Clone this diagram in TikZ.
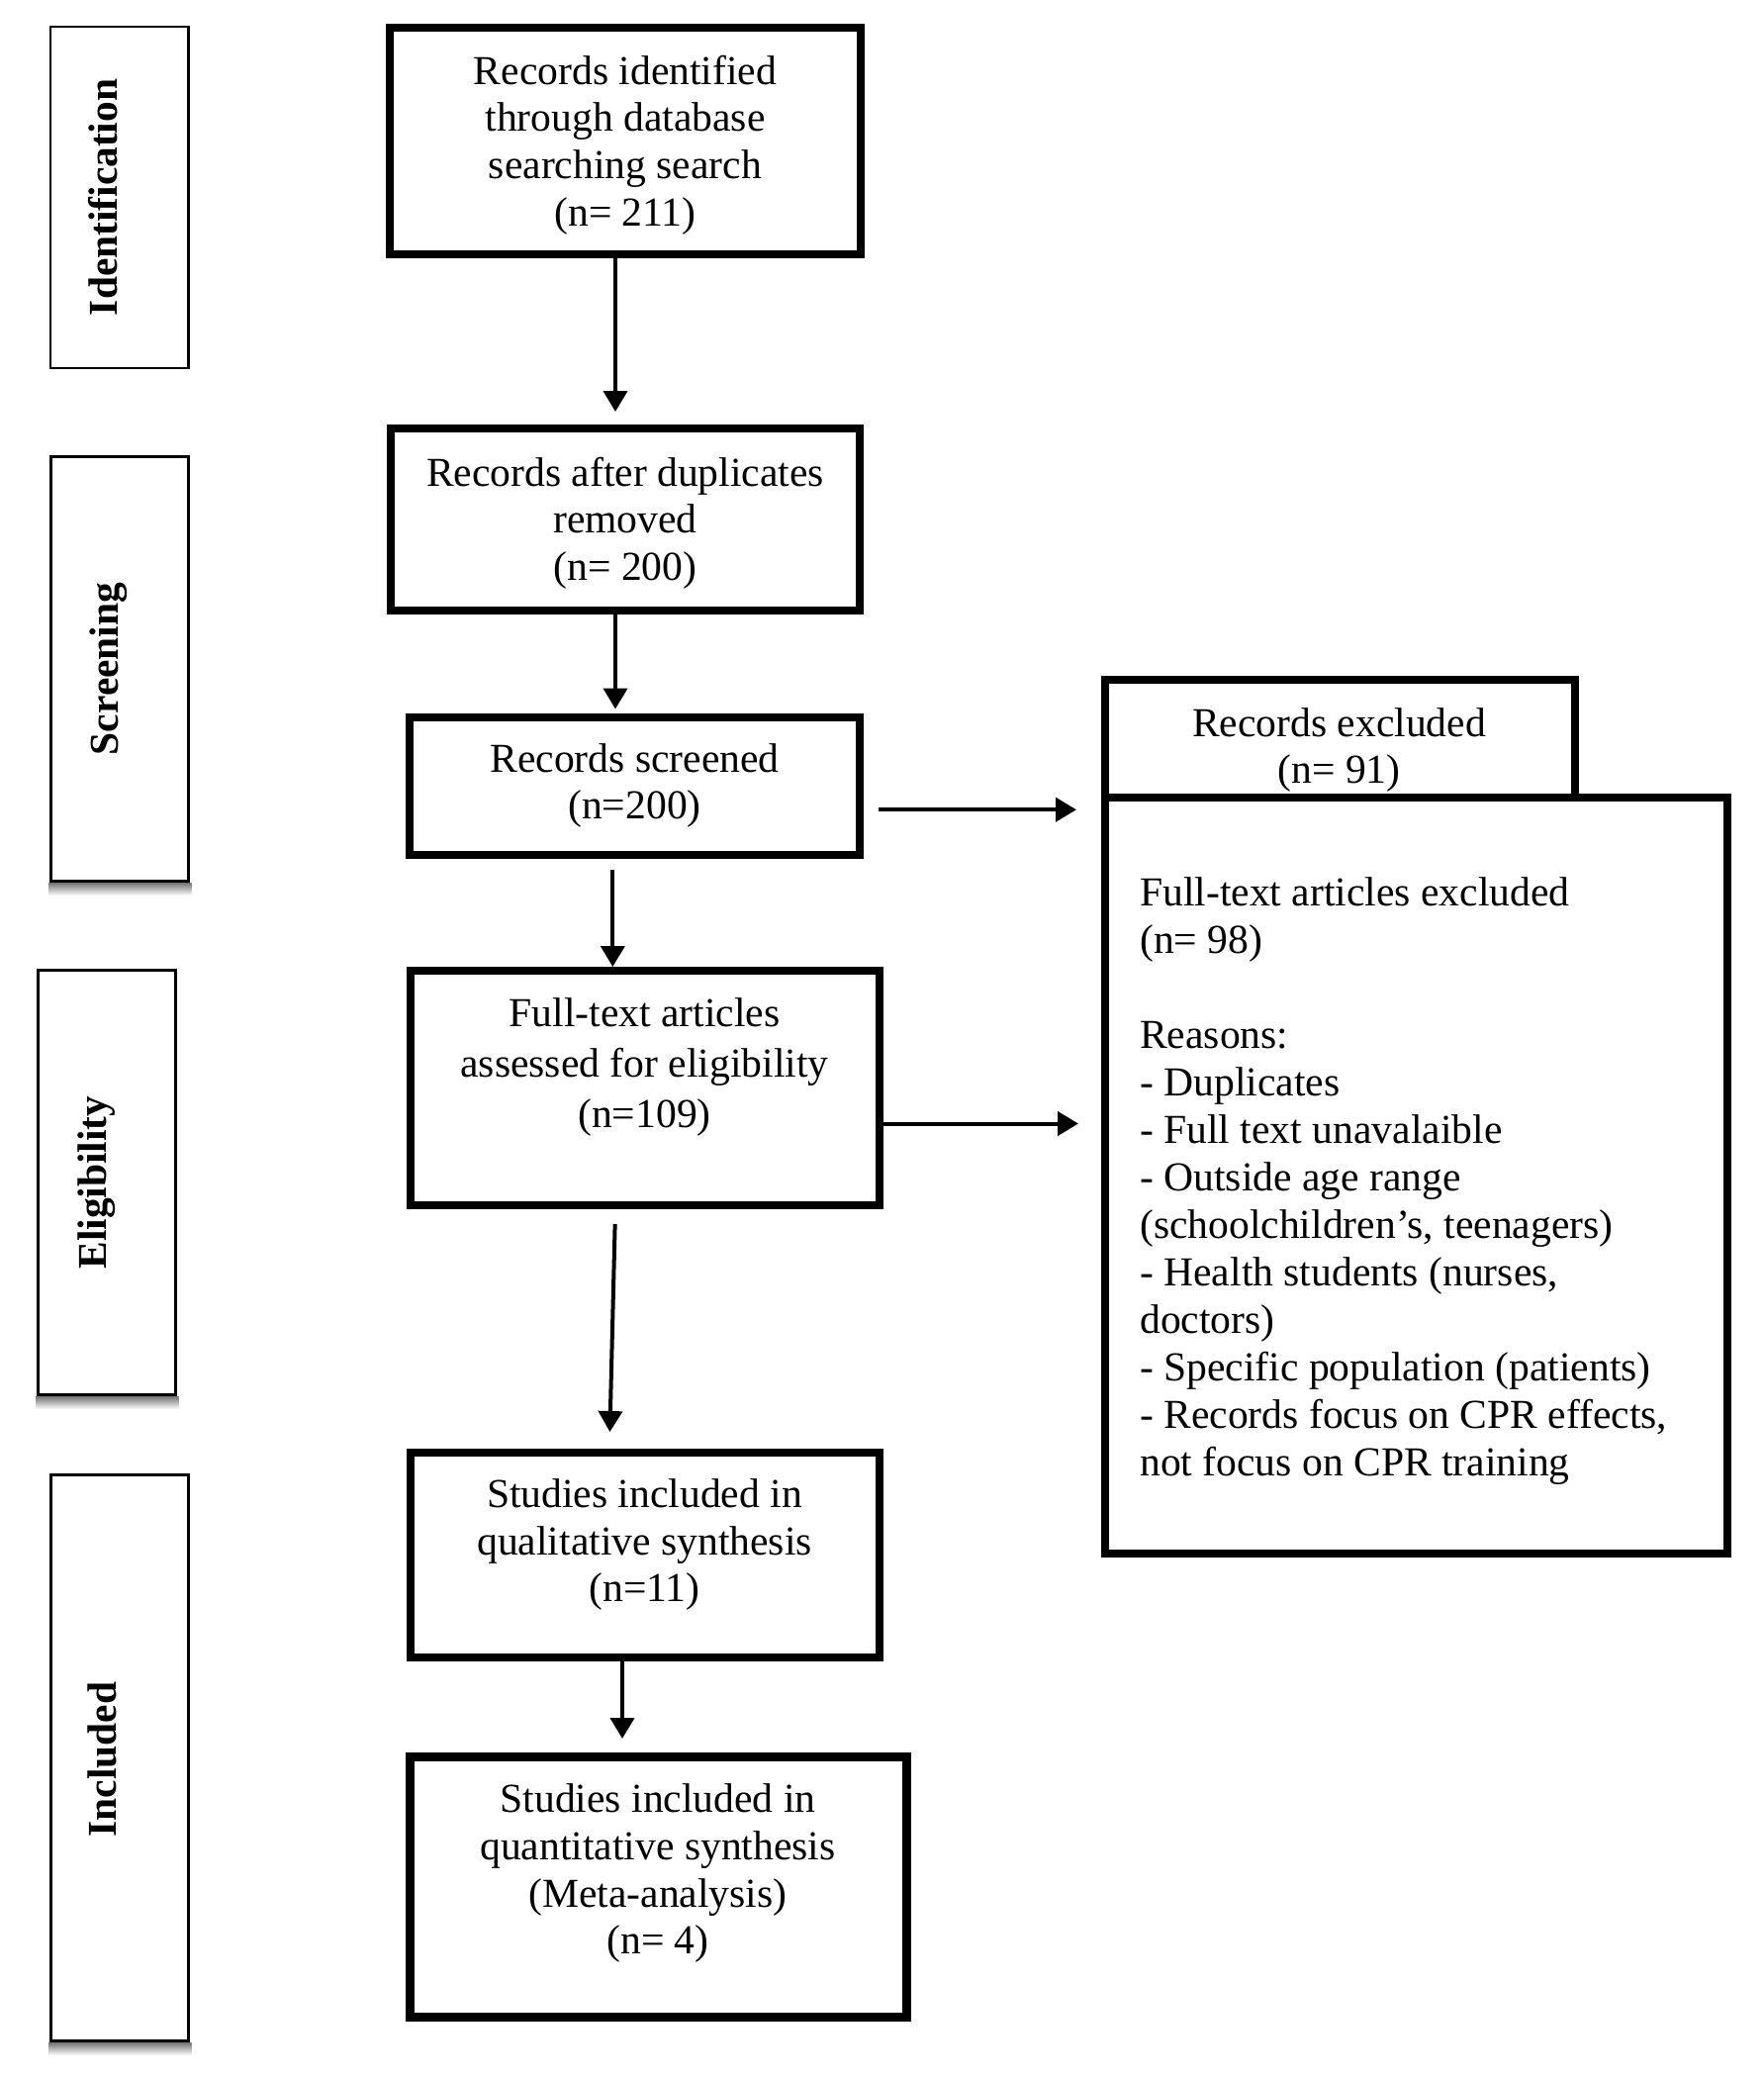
\documentclass[tikz,border=0pt]{standalone}
\usepackage{fontspec}
\setmainfont{Liberation Serif}
\usetikzlibrary{arrows.meta,calc}
\begin{document}
\begin{tikzpicture}[x=1pt,y=-1pt,
  mainbox/.style={draw, line width=8pt, fill=white, inner sep=0pt},
  phasebox/.style={draw, line width=3pt, fill=white, inner sep=0pt},
  txt/.style={inner sep=0pt, align=center, font=\fontsize{41.6pt}{47.7pt}\selectfont},
  phasetxt/.style={inner sep=0pt, rotate=90, anchor=base, font=\fontsize{41.4pt}{47pt}\selectfont\bfseries},
  arr/.style={line width=4pt, -{Triangle[length=21pt,width=24pt]}},
  shadowfill/.style={top color=black!55, bottom color=white, draw=none}]
\useasboundingbox (0,0) rectangle (1782,2100);
\fill[white] (0,0) rectangle (1782,2100);

% phase boxes
\node[phasebox, line width=2.5pt, minimum width=139.3pt, minimum height=344.6pt] (pid) at (120.85,199.5) {};
\node[phasebox, minimum width=138.7pt, minimum height=429pt] (pscr) at (120.85,676) {};
\node[phasebox, minimum width=138.7pt, minimum height=429pt] (pel) at (107.85,1195) {};
\node[phasebox, minimum width=138.5pt, minimum height=572pt] (pinc) at (120.75,1776.5) {};
\foreach \n in {pscr,pel,pinc}
  \shade[shadowfill] ([xshift=-1pt]\n.south west) rectangle ([xshift=2pt,yshift=-13pt]\n.south east);

\node[phasetxt] (lid) at (118.3,199.5) {Identification};
\node[phasetxt] (lscr) at (119.4,676) {Screening};
\node[phasetxt] (lel) at (107.3,1195) {Eligibility};
\node[phasetxt] (linc) at (117.5,1778) {Included};

% main column
\node[mainbox, minimum width=476pt, minimum height=229pt] (b1) at (632,142.5) {};
\node[mainbox, minimum width=474pt, minimum height=184pt] (b2) at (632,525) {};
\node[mainbox, minimum width=455pt, minimum height=139.5pt] (b3) at (641.5,794.25) {};
\node[mainbox, minimum width=474pt, minimum height=237pt] (b4) at (651.5,1099.5) {};
\node[mainbox, minimum width=474pt, minimum height=207pt] (b5) at (651.5,1571.5) {};
\node[mainbox, line width=9pt, minimum width=501.5pt, minimum height=263pt] (b6) at (665.25,1906.5) {};

% exclusion boxes
\node[mainbox, minimum width=474.8pt, minimum height=193.3pt] (exc) at (1354.1,783.35) {};
\node[mainbox, minimum width=629pt, minimum height=763.5pt] (big) at (1431.5,1187.75) {};

% texts
\node[txt] (t1) at (632,146.5) {Records identified\\through database\\searching search\\(n= 211)};
\node[txt] (t2) at (632,528.5) {Records after duplicates\\removed\\(n= 200)};
\node[txt] (t3) at (641.5,794) {Records screened\\(n=200)};
\node[txt, font=\fontsize{41.6pt}{51pt}\selectfont] (t4) at (651.5,1078.5) {Full-text articles\\assessed for eligibility\\(n=109)};
\node[txt] (t5) at (651.5,1561) {Studies included in\\qualitative synthesis\\(n=11)};
\node[txt] (t6) at (665,1893.3) {Studies included in\\quantitative synthesis\\(Meta-analysis)\\(n= 4)};
\node[txt] (texc) at (1353.5,758) {Records excluded\\(n= 91)};
\node[txt, align=left, anchor=west, font=\fontsize{41.6pt}{48pt}\selectfont] (tbig) at (1152,1193.3)
  {Full-text articles excluded\\(n= 98)\\[48pt]Reasons:\\- Duplicates\\- Full text unavalaible\\- Outside age range\\(schoolchildren’s, teenagers)\\- Health students (nurses,\\doctors)\\- Specific population (patients)\\- Records focus on CPR effects,\\not focus on CPR training};

% connectors
\draw[arr, shorten >=13pt] (b1.south -| 622,0) -- (b2.north -| 622,0);
\draw[arr, shorten >=4pt] (b2.south -| 622,0) -- (b3.north -| 622,0);
\draw[arr, shorten <=11pt] (b3.south -| 619.3,0) -- (b4.north -| 619.3,0);
\draw[arr, shorten <=15pt, shorten >=17pt] (b4.south -| 622,0) -- (b5.north -| 616,0);
\draw[arr, shorten >=13.5pt] (b5.south -| 629,0) -- (b6.north -| 629,0);
\draw[arr, shorten <=15pt, shorten >=24.7pt] ([yshift=-24pt]b3.east) -- ([yshift=-24pt]b3.east -| exc.west);
\draw[arr, shorten >=23pt] ([yshift=-36pt]b4.east) -- ([yshift=-36pt]b4.east -| big.west);
\end{tikzpicture}
\end{document}
